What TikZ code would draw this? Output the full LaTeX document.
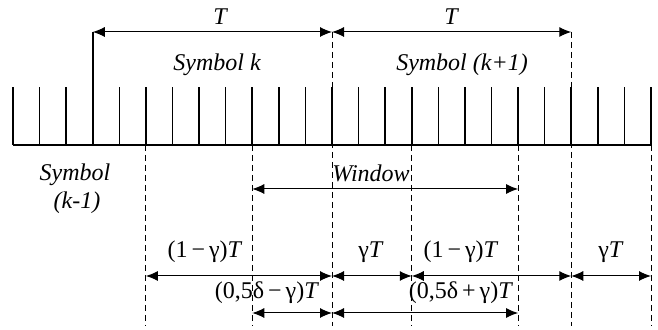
\documentclass[tikz,border=0pt]{standalone}
\usepackage{fontspec}
\setmainfont{Liberation Serif}
\usetikzlibrary{arrows.meta,positioning}
\tikzset{
  spike/.style={line width=0.8pt},
  guide/.style={line width=0.5pt, dash pattern=on 3pt off 2pt},
  dim/.style={{Latex[length=6pt,width=5pt]}-{Latex[length=6pt,width=5pt]}, line width=0.5pt},
  lbl/.style={font=\fontsize{12}{14}\selectfont\itshape, inner sep=1pt},
  mlbl/.style={font=\fontsize{12}{14}\selectfont, inner sep=1pt},
}

\begin{document}
\begin{tikzpicture}[x=0.5pt,y=-0.5pt]
\useasboundingbox (0,0) rectangle (658,330);
% Samples on the time axis
\foreach \i in {0,...,24} {
  \coordinate (t\i) at (13+26.583*\i,145);
  \draw[spike] (t\i) -- ++(0,-58);
}
\draw[spike] (t0) -- (t24);

% Row heights
\coordinate (yT) at (0,32);
\coordinate (yW) at (0,189);
\coordinate (yA) at (0,276);
\coordinate (yB) at (0,313);
\coordinate (yE) at (0,326);

% Symbol boundaries
\draw[spike] (t3) -- (t3 |- yT);
\draw[guide] (t12 |- yT) -- (t12 |- yE);
\draw[guide] (t21 |- yT) -- (t21 |- yE);
\foreach \i in {5,9,15,19,24} \draw[guide] (t\i) -- (t\i |- yE);

% Symbol length
\draw[dim] (t3 |- yT) -- (t12 |- yT);
\draw[dim] (t12 |- yT) -- (t21 |- yT);
\node[lbl] (lenk) at (220,17) {T};
\node[lbl] (lenk1) at (451,17) {T};
\node[lbl] (symk) at (217,65) {Symbol k};
\node[lbl] (symk1) at (462,65) {Symbol (k+1)};
\node[lbl] (symkm) at (75,175) {Symbol};
\node[lbl] (symkm2) at (77,203) {(k-1)};

% Window
\draw[dim] (t9 |- yW) -- (t19 |- yW);
\node[lbl] (win) at (371,173) {Window};

% Parts of the symbols
\draw[dim] (t5 |- yA) -- (t12 |- yA);
\draw[dim] (t12 |- yA) -- (t15 |- yA);
\draw[dim] (t15 |- yA) -- (t21 |- yA);
\draw[dim] (t21 |- yA) -- (t24 |- yA);
\node[mlbl] (p1) at (205,252) {(1\,−\,γ)\textit{T}};
\node[mlbl] (p2) at (371,252) {γ\textit{T}};
\node[mlbl] (p3) at (461,252) {(1\,−\,γ)\textit{T}};
\node[mlbl] (p4) at (611,252) {γ\textit{T}};

% Window offsets
\draw[dim] (t9 |- yB) -- (t12 |- yB);
\draw[dim] (t12 |- yB) -- (t19 |- yB);
\node[mlbl] (q1) at (267,293) {(0,5δ\,−\,γ)\textit{T}};
\node[mlbl] (q2) at (461,293) {(0,5δ\,+\,γ)\textit{T}};
\end{tikzpicture}
\end{document}
